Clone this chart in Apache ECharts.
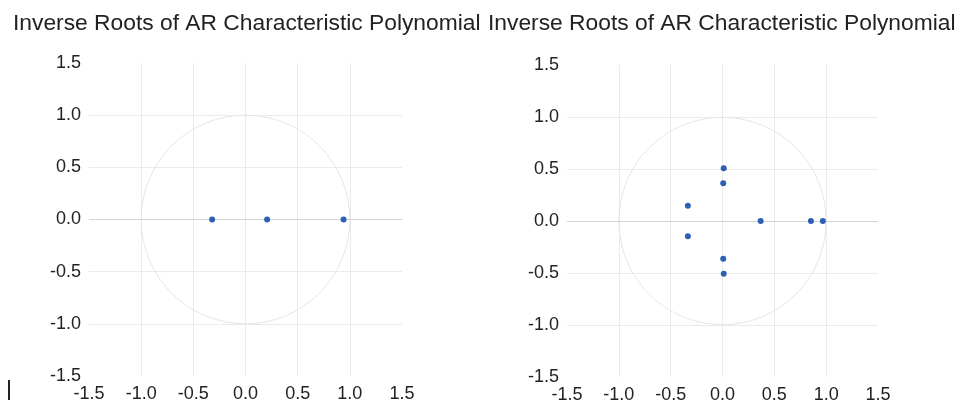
<!DOCTYPE html>
<html>
<head>
<meta charset="utf-8">
<script src="https://cdn.jsdelivr.net/npm/echarts@6/dist/echarts.min.js"></script>
<style>
  html, body { margin: 0; padding: 0; background: #fff; }
  #chart { width: 960px; height: 400px; }
</style>
</head>
<body>
<div id="chart"></div>
<script>
// inverse roots, real / imaginary parts
const leftRe = [-0.32, 0.207, 0.94]
const leftIm = [0, 0, 0]
const rightRe = [0.012, 0.007, -0.334, 0.368, 0.853, 0.968, -0.334, 0.007, 0.012]
const rightIm = [0.508, 0.363, 0.146, 0, 0, 0, -0.146, -0.363, -0.508]

// unit circle: center x, center y, radius
const circle = [0, 0, 1]

const axisMin = -1.5
const axisMax = 1.5
const axisStep = 0.5
const titleText = 'Inverse Roots of AR Characteristic Polynomial'

const font = 'Liberation Sans, Arial, sans-serif'
const pointColor = '#2d5fb4'
const gridColor = '#ebebeb'

const chart = echarts.init(document.getElementById('chart'))

function makeAxis(gridIndex, margin) {
  return {
    type: 'value',
    gridIndex,
    min: axisMin,
    max: axisMax,
    interval: axisStep,
    axisLine: { show: false, onZero: false },
    axisTick: { show: false },
    axisLabel: {
      color: '#222',
      fontSize: 18,
      fontFamily: font,
      margin,
      formatter: (v) => v.toFixed(1),
    },
    splitLine: {
      show: true,
      showMinLine: false,
      showMaxLine: false,
      lineStyle: { color: gridColor, width: 1 },
    },
  }
}

// unit circle + zero line, drawn under the roots
function circleSeries(idx) {
  return {
    type: 'custom',
    xAxisIndex: idx,
    yAxisIndex: idx,
    silent: true,
    z: 1,
    data: [circle],
    renderItem: (params, api) => {
      const c = api.coord([api.value(0), api.value(1)])
      const r = api.size([api.value(2), 0])[0]
      return {
        type: 'circle',
        shape: { cx: c[0], cy: c[1], r },
        style: { fill: 'none', stroke: '#e6e6e6', lineWidth: 1 },
      }
    },
    markLine: {
      silent: true,
      symbol: 'none',
      label: { show: false },
      lineStyle: { color: '#d4d4d4', type: 'solid', width: 1 },
      data: [{ yAxis: 0 }],
    },
  }
}

function rootSeries(idx, re, im) {
  return {
    type: 'scatter',
    xAxisIndex: idx,
    yAxisIndex: idx,
    symbolSize: 6,
    itemStyle: { color: pointColor, opacity: 1 },
    data: re.map((x, i) => [x, im[i]]),
    z: 5,
  }
}

const titleStyle = { fontSize: 22.8, fontWeight: 'normal', color: '#222', fontFamily: font }

chart.setOption({
  backgroundColor: '#fff',
  animation: false,
  title: [
    { text: titleText, left: 13, top: 12, padding: 0, textStyle: titleStyle },
    { text: titleText, left: 488, top: 12, padding: 0, textStyle: titleStyle },
  ],
  grid: [
    { left: 89, top: 63, width: 313, height: 313, outerBoundsMode: 'none', containLabel: false },
    { left: 567, top: 65, width: 311, height: 312, outerBoundsMode: 'none', containLabel: false },
  ],
  xAxis: [makeAxis(0, 9), makeAxis(1, 9)],
  yAxis: [makeAxis(0, 8), makeAxis(1, 8)],
  series: [
    circleSeries(0),
    rootSeries(0, leftRe, leftIm),
    circleSeries(1),
    rootSeries(1, rightRe, rightIm),
  ],
  graphic: [
    { type: 'rect', left: 8, top: 380, shape: { width: 2, height: 20 }, style: { fill: '#222' } },
  ],
})
</script>
</body>
</html>
